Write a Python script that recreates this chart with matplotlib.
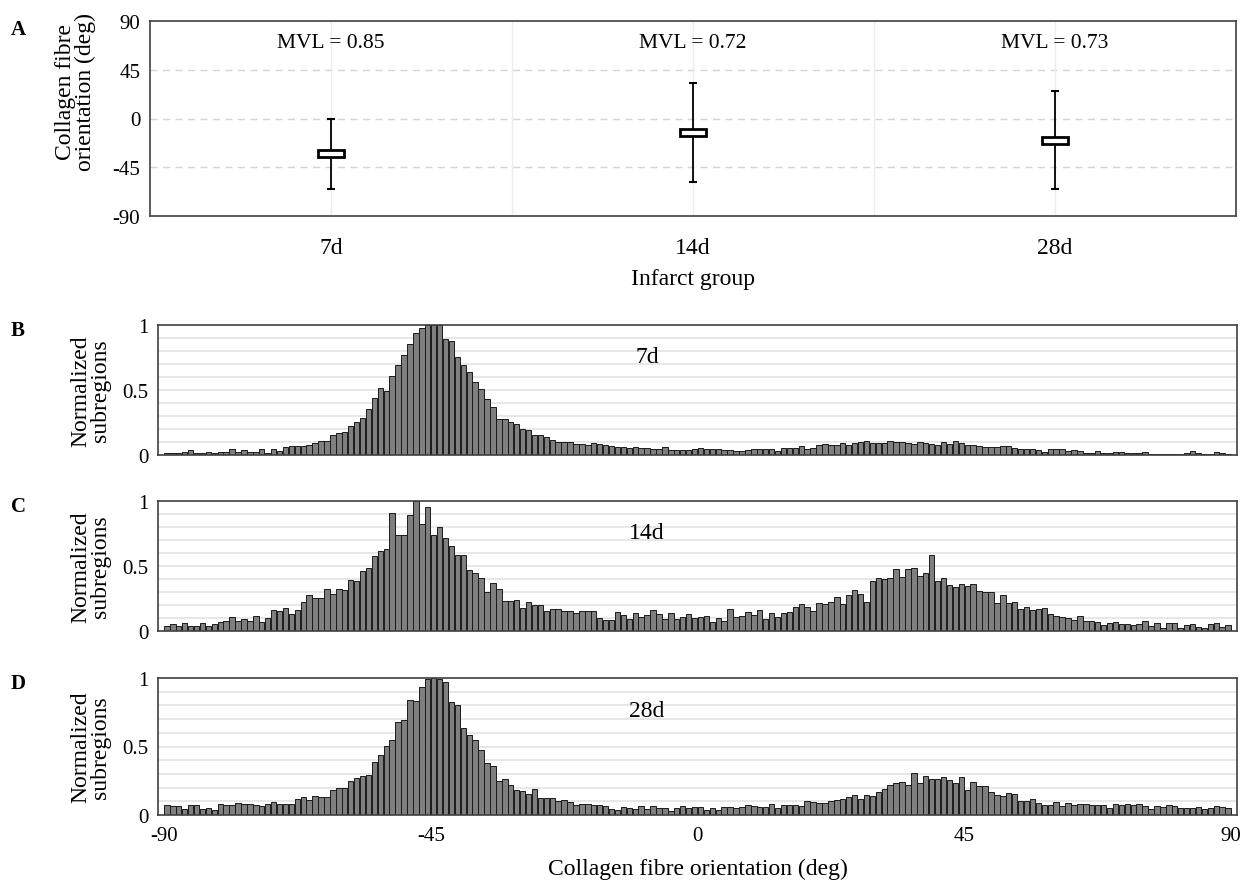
import numpy as np
import matplotlib
matplotlib.use("Agg")
import matplotlib.pyplot as plt

plt.rcParams['font.family'] = ['Liberation Serif', 'DejaVu Serif']
plt.rcParams['axes.unicode_minus'] = False

# panel A: summary per infarct group
groups = ['7d', '14d', '28d']
box_lo = [-35.2, -16.2, -23.2]
box_hi = [-29.4, -10.0, -17.1]
whisk_lo = [-65.4, -58.6, -65.4]
whisk_hi = [0.0, 33.1, 25.4]
mvl = [0.85, 0.72, 0.73]

# panels B-D: normalized histograms, 1 deg bins from -90 to 90
bin_centers = np.arange(-89.5, 90, 1.0)

hist_7d = [
    0.013, 0.018, 0.018, 0.023, 0.038, 0.018, 0.018, 0.026, 0.018, 0.026,
    0.026, 0.044, 0.023, 0.038, 0.026, 0.026, 0.049, 0.018, 0.049, 0.031,
    0.059, 0.069, 0.072, 0.072, 0.079, 0.092, 0.105, 0.108, 0.151, 0.172,
    0.174, 0.223, 0.256, 0.285, 0.356, 0.438, 0.518, 0.492, 0.608, 0.692,
    0.769, 0.851, 0.936, 0.980, 1.000, 1.000, 1.000, 0.892, 0.874, 0.756,
    0.692, 0.641, 0.562, 0.505, 0.433, 0.367, 0.274, 0.274, 0.251, 0.236,
    0.197, 0.190, 0.154, 0.154, 0.136, 0.115, 0.100, 0.100, 0.100, 0.087,
    0.087, 0.077, 0.092, 0.087, 0.074, 0.069, 0.062, 0.062, 0.054, 0.064,
    0.056, 0.054, 0.044, 0.044, 0.064, 0.038, 0.038, 0.038, 0.038, 0.044,
    0.054, 0.049, 0.044, 0.044, 0.038, 0.038, 0.031, 0.031, 0.036, 0.049,
    0.049, 0.049, 0.049, 0.031, 0.056, 0.056, 0.056, 0.069, 0.049, 0.056,
    0.079, 0.085, 0.079, 0.079, 0.092, 0.079, 0.092, 0.100, 0.105, 0.092,
    0.092, 0.092, 0.110, 0.097, 0.097, 0.092, 0.085, 0.103, 0.092, 0.085,
    0.079, 0.100, 0.087, 0.105, 0.090, 0.074, 0.074, 0.069, 0.064, 0.062,
    0.062, 0.069, 0.069, 0.056, 0.049, 0.049, 0.044, 0.038, 0.026, 0.049,
    0.049, 0.044, 0.031, 0.038, 0.031, 0.013, 0.013, 0.033, 0.018, 0.013,
    0.026, 0.026, 0.018, 0.018, 0.018, 0.026, 0.010, 0.010, 0.010, 0.010,
    0.010, 0.010, 0.018, 0.031, 0.018, 0.010, 0.010, 0.023, 0.018, 0.010,
]

hist_14d = [
    0.038, 0.051, 0.041, 0.064, 0.041, 0.041, 0.062, 0.041, 0.051, 0.067,
    0.079, 0.105, 0.074, 0.090, 0.079, 0.113, 0.069, 0.100, 0.159, 0.156,
    0.179, 0.133, 0.162, 0.223, 0.274, 0.254, 0.254, 0.323, 0.287, 0.326,
    0.318, 0.395, 0.387, 0.464, 0.485, 0.577, 0.618, 0.631, 0.908, 0.736,
    0.741, 0.892, 1.000, 0.826, 0.951, 0.736, 0.800, 0.715, 0.651, 0.585,
    0.585, 0.469, 0.449, 0.408, 0.300, 0.369, 0.326, 0.231, 0.231, 0.238,
    0.179, 0.223, 0.203, 0.203, 0.154, 0.172, 0.167, 0.154, 0.156, 0.136,
    0.154, 0.151, 0.156, 0.100, 0.087, 0.087, 0.146, 0.121, 0.092, 0.138,
    0.110, 0.126, 0.162, 0.133, 0.092, 0.138, 0.092, 0.110, 0.128, 0.097,
    0.108, 0.118, 0.069, 0.103, 0.079, 0.172, 0.105, 0.115, 0.146, 0.121,
    0.162, 0.095, 0.138, 0.110, 0.138, 0.144, 0.185, 0.208, 0.185, 0.154,
    0.213, 0.208, 0.226, 0.262, 0.208, 0.279, 0.318, 0.287, 0.223, 0.382,
    0.410, 0.397, 0.410, 0.474, 0.415, 0.479, 0.487, 0.421, 0.444, 0.587,
    0.382, 0.410, 0.351, 0.341, 0.364, 0.349, 0.359, 0.308, 0.303, 0.303,
    0.218, 0.279, 0.215, 0.226, 0.169, 0.182, 0.164, 0.169, 0.174, 0.133,
    0.115, 0.105, 0.097, 0.082, 0.113, 0.079, 0.079, 0.069, 0.049, 0.059,
    0.067, 0.056, 0.051, 0.049, 0.051, 0.074, 0.041, 0.062, 0.021, 0.059,
    0.064, 0.026, 0.049, 0.056, 0.033, 0.021, 0.054, 0.062, 0.031, 0.049,
]

hist_28d = [
    0.076, 0.063, 0.066, 0.046, 0.071, 0.071, 0.046, 0.054, 0.039, 0.080,
    0.073, 0.071, 0.085, 0.083, 0.080, 0.071, 0.063, 0.078, 0.093, 0.080,
    0.080, 0.080, 0.115, 0.129, 0.110, 0.141, 0.129, 0.134, 0.183, 0.200,
    0.195, 0.246, 0.268, 0.285, 0.290, 0.390, 0.441, 0.502, 0.544, 0.680,
    0.695, 0.841, 0.829, 0.932, 0.993, 1.000, 0.993, 0.968, 0.824, 0.800,
    0.637, 0.583, 0.551, 0.473, 0.376, 0.356, 0.246, 0.261, 0.222, 0.183,
    0.176, 0.154, 0.188, 0.122, 0.127, 0.127, 0.102, 0.107, 0.095, 0.076,
    0.083, 0.083, 0.073, 0.071, 0.063, 0.041, 0.039, 0.061, 0.051, 0.041,
    0.063, 0.041, 0.066, 0.051, 0.051, 0.029, 0.051, 0.063, 0.054, 0.061,
    0.059, 0.039, 0.049, 0.039, 0.056, 0.056, 0.051, 0.061, 0.076, 0.066,
    0.061, 0.056, 0.080, 0.054, 0.071, 0.071, 0.071, 0.063, 0.102, 0.095,
    0.085, 0.085, 0.105, 0.112, 0.115, 0.132, 0.144, 0.115, 0.144, 0.137,
    0.171, 0.188, 0.217, 0.232, 0.241, 0.222, 0.310, 0.232, 0.285, 0.266,
    0.261, 0.280, 0.254, 0.237, 0.276, 0.180, 0.244, 0.215, 0.210, 0.168,
    0.149, 0.137, 0.163, 0.156, 0.102, 0.102, 0.115, 0.088, 0.076, 0.076,
    0.095, 0.063, 0.085, 0.073, 0.078, 0.078, 0.076, 0.073, 0.073, 0.054,
    0.080, 0.073, 0.080, 0.076, 0.083, 0.063, 0.044, 0.063, 0.059, 0.071,
    0.066, 0.051, 0.049, 0.049, 0.056, 0.041, 0.049, 0.066, 0.061, 0.054,
]

W, H = 1249, 887
fig = plt.figure(figsize=(W / 100, H / 100), dpi=100)


def px_axes(left, top, right, bottom):
    return fig.add_axes([left / W, 1 - bottom / H, (right - left) / W, (bottom - top) / H])


# ---- panel A ----
ax = px_axes(150, 22, 1236, 217)
x = np.arange(len(groups))
ax.set_xlim(-0.5, 2.5)
ax.set_ylim(-90, 90)
ax.set_yticks([-90, -45, 0, 45, 90])
ax.set_xticks(x)
ax.set_xticklabels(groups, fontsize=17)
ax.tick_params(axis='both', length=0, pad=15)
ax.tick_params(axis='y', labelsize=15, pad=7)
for yv in [-45, 0, 45]:
    ax.axhline(yv, color='#d4d4d4', lw=1, ls=(0, (5, 4)), zorder=0)
for xv in [0, 0.5, 1, 1.5, 2]:
    ax.axvline(xv, color='#ececec', lw=1, zorder=0)

ax.vlines(x, whisk_lo, whisk_hi, color='black', lw=1.3, zorder=2)
ax.hlines(whisk_lo, x - 0.012, x + 0.012, color='black', lw=1.5, zorder=2)
ax.hlines(whisk_hi, x - 0.012, x + 0.012, color='black', lw=1.5, zorder=2)
ax.bar(x, np.array(box_hi) - np.array(box_lo), bottom=box_lo, width=0.072,
       color='white', edgecolor='black', lw=2, zorder=3)
for xi, m in zip(x, mvl):
    ax.text(xi, 70, 'MVL = %.2f' % m, ha='center', va='center', fontsize=15.5)
for s in ax.spines.values():
    s.set_color('#404040')
    s.set_linewidth(1.2)
ax.set_xlabel('Infarct group', fontsize=17, labelpad=7)
ax.set_ylabel('Collagen fibre\norientation (deg)', fontsize=17, linespacing=0.9)
ax.yaxis.set_label_coords(-0.05, 0.64)
fig.text(11 / W, 1 - 30 / H, 'A', fontsize=15, fontweight='bold', va='center')

# ---- panels B-D ----
panels = [('B', hist_7d, '7d', 326, 456), ('C', hist_14d, '14d', 502, 632),
          ('D', hist_28d, '28d', 679, 816)]
for i, (letter, vals, label, top, bottom) in enumerate(panels):
    ax = px_axes(158, top, 1237, bottom)
    ax.set_xlim(-91, 91)
    ax.set_ylim(0, 1)
    for yv in np.arange(0.1, 1.0, 0.1):
        ax.axhline(yv, color='#e3e3e3', lw=1.2, zorder=0)
    ax.bar(bin_centers, vals, width=0.92, color='#7f7f7f', edgecolor='#1a1a1a',
           lw=0.7, zorder=2)
    ax.set_yticks([0, 0.5, 1])
    ax.set_yticklabels(['0', '0.5', '1'])
    ax.tick_params(axis='both', length=0, labelsize=15)
    ax.tick_params(axis='y', pad=7)
    ax.set_xticks([-90, -45, 0, 45, 90])
    if i < 2:
        ax.set_xticklabels([])
    else:
        ax.tick_params(axis='x', pad=8)
        ax.set_xlabel('Collagen fibre orientation (deg)', fontsize=17, labelpad=9)
    for s in ax.spines.values():
        s.set_color('#404040')
        s.set_linewidth(1.2)
    ax.text(-8.5, 0.76, label, fontsize=17, ha='center', va='center')
    ax.set_ylabel('Normalized\nsubregions', fontsize=17, labelpad=8, linespacing=0.9)
    fig.text(11 / W, 1 - (top + 5) / H, letter, fontsize=15, fontweight='bold', va='center')

fig.savefig('out.png', dpi=100)
